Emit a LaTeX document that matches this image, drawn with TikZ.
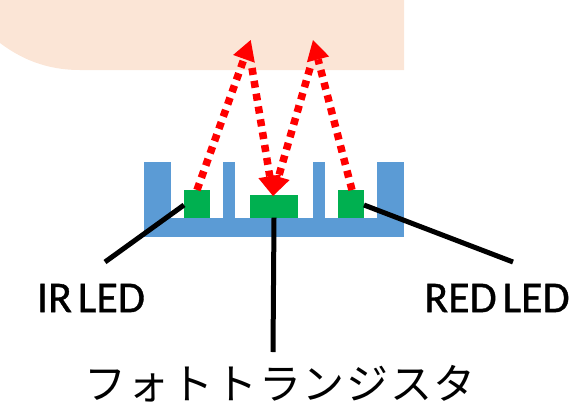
\documentclass[tikz,border=0pt]{standalone}
\usepackage{fontspec}
\setmainfont{Carlito}
\newfontfamily\labelfont[FakeBold=0.8,WordSpace=0.6]{Carlito}
\newfontfamily\jpfont{Noto Sans CJK JP}
\usetikzlibrary{arrows.meta}
\definecolor{skin}{HTML}{FBE5D6}
\definecolor{housing}{HTML}{5B9BD5}
\definecolor{chip}{HTML}{00B050}
\tikzset{
  x=1pt, y=-1pt,
  wall/.style={fill=housing, draw=none},
  chipbox/.style={fill=chip, draw=none, inner sep=0pt, outer sep=0pt, anchor=north west},
  beam/.style={draw=red, line width=7.5pt, dash pattern=on 7pt off 6pt},
  beamhead/.style={beam, -{Triangle[length=20pt,width=23pt,fill=red,line width=0pt]}},
  leader/.style={draw=black, line width=5pt},
  label/.style={inner sep=0pt, font=\labelfont\fontsize{44}{44}\selectfont},
}
\begin{document}
\begin{tikzpicture}
\useasboundingbox (0,0) rectangle (575,408);

% fingertip
\fill[skin] (0,0) -- (404,0) -- (404,70) -- (80,70)
  .. controls (45,70) and (20,58) .. (0,43) -- cycle;

% sensor housing
\fill[wall] (143.5,218) rectangle (404,236.5);
\fill[wall] (143.5,162) rectangle (170.5,218);
\fill[wall] (222.7,162) rectangle (235,218);
\fill[wall] (313,162) rectangle (325,218);
\fill[wall] (377.3,162) rectangle (404,218);

% emitters and detector
\node[chipbox, minimum width=25.7pt, minimum height=27.4pt] (irled) at (184,190.3) {};
\node[chipbox, minimum width=48pt, minimum height=23pt] (photo) at (250,194.7) {};
\node[chipbox, minimum width=25.7pt, minimum height=27.4pt] (redled) at (338.3,190.3) {};

% text labels
\node[label] (irtext) at (91,298) {IR LED};
\node[label] (redtext) at (497,298) {RED LED};
\node[inner sep=0pt, font=\jpfont\fontsize{42}{42}\selectfont] (phototext) at (280,384)
  {\addfontfeature{LetterSpace=4}フォトトランジスタ};

% leader lines
\coordinate (irend) at (105,262);
\coordinate (redend) at (513,262);
\coordinate (photoend) at (273,352);
\draw[leader] (irled.west) ++(0,1) -- (irend);
\draw[leader] (redled.east) ++(0,1) -- (redend);
\draw[leader] (photo.south) -- (photoend);

% reflected light paths
\coordinate (irstart) at (197,190);
\coordinate (peakA) at (250.7,40);
\coordinate (peakAdown) at (252,68);
\coordinate (sink) at (273,196);
\coordinate (peakBdown) at (310,68);
\coordinate (redstart) at (352,190);
\coordinate (peakB) at (313,40);
\draw[beamhead] (irstart) -- (peakA);
\draw[beamhead] (peakAdown) -- (sink);
\draw[beamhead] (peakBdown) -- (sink);
\draw[beamhead] (redstart) -- (peakB);
\end{tikzpicture}
\end{document}
